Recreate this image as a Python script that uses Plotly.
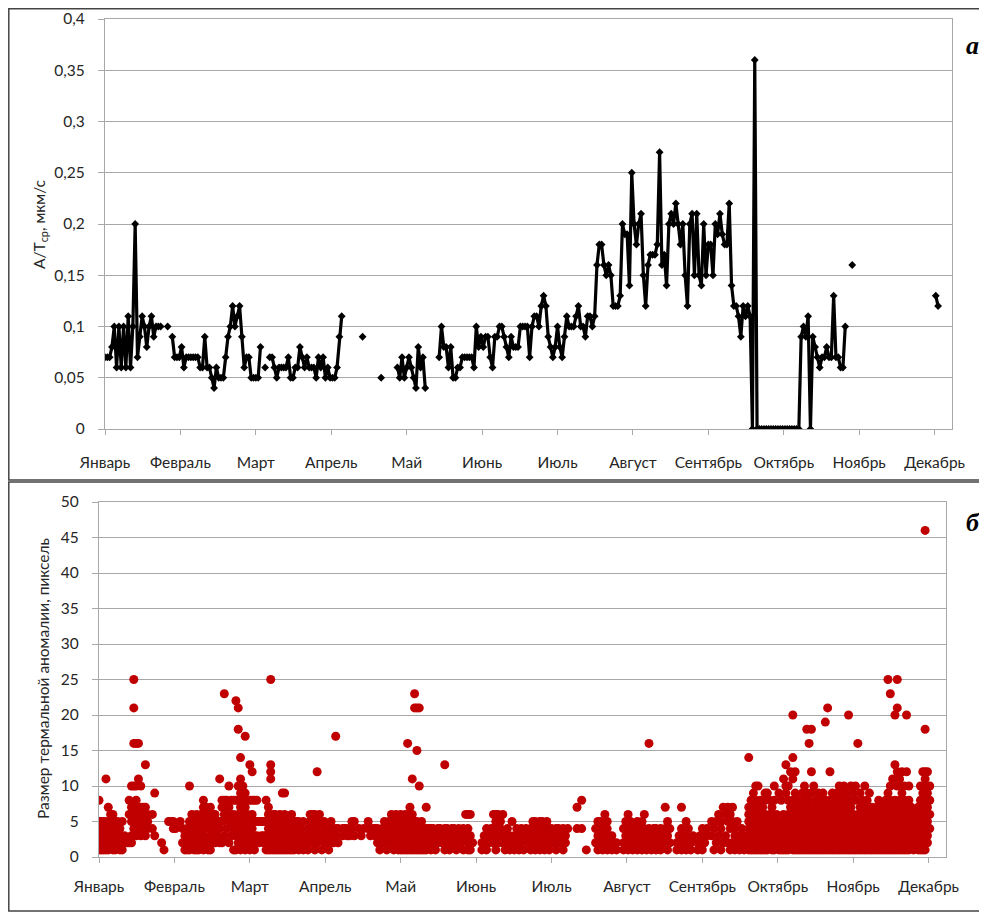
import plotly.graph_objects as go

W, H = 987, 913
OFF = 8  # page body margin in the browser

months = ["Январь", "Февраль", "Март", "Апрель", "Май", "Июнь", "Июль",
          "Август", "Сентябрь", "Октябрь", "Ноябрь", "Декабрь"]

# ---- panel a: A/T_cp, daily values (segments separated by missing days)
seg_starts = [0, 27, 29, 69, 71, 111, 119, 126, 144, 322, 358]
seg_values = [
    [0.07, 0.07, 0.07, 0.08, 0.10, 0.06, 0.10, 0.06, 0.10, 0.06, 0.11, 0.06, 0.10,
     0.20, 0.07, 0.09, 0.11, 0.10, 0.08, 0.10, 0.11, 0.09, 0.10, 0.10, 0.10],
    [0.10],
    [0.09, 0.07, 0.07, 0.07, 0.08, 0.06, 0.07, 0.07, 0.07, 0.07,
     0.07, 0.07, 0.06, 0.06, 0.09, 0.06, 0.06, 0.05, 0.04, 0.06,
     0.05, 0.05, 0.05, 0.07, 0.09, 0.10, 0.12, 0.10, 0.11, 0.12,
     0.09, 0.06, 0.07, 0.07, 0.05, 0.05, 0.05, 0.05, 0.08],
    [0.06],
    [0.07, 0.07, 0.06, 0.05, 0.06, 0.06, 0.06, 0.06, 0.07, 0.05,
     0.05, 0.06, 0.06, 0.08, 0.07, 0.06, 0.07, 0.06, 0.06, 0.06,
     0.05, 0.07, 0.06, 0.07, 0.05, 0.06, 0.05, 0.05, 0.05, 0.06, 0.09, 0.11],
    [0.09],
    [0.05],
    [0.06, 0.05, 0.07, 0.05, 0.06, 0.07, 0.06, 0.05, 0.04, 0.08, 0.06, 0.07, 0.04],
    [0.07, 0.10, 0.08, 0.08, 0.06, 0.08, 0.05, 0.05, 0.06, 0.06,
     0.07, 0.07, 0.07, 0.07, 0.07, 0.06, 0.10, 0.08, 0.09, 0.08,
     0.09, 0.09, 0.07, 0.06, 0.09, 0.09, 0.10, 0.10, 0.09, 0.08,
     0.07, 0.09, 0.08, 0.08, 0.08, 0.10, 0.10, 0.10, 0.10, 0.07,
     0.10, 0.11, 0.11, 0.10, 0.12, 0.13, 0.12, 0.09, 0.08, 0.07,
     0.08, 0.10, 0.08, 0.07, 0.09, 0.11, 0.10,
     0.10, 0.10, 0.11, 0.12, 0.10, 0.10, 0.09, 0.11, 0.11, 0.10,
     0.11, 0.16, 0.18, 0.18, 0.16, 0.15, 0.16, 0.15, 0.12, 0.12,
     0.12, 0.13, 0.20, 0.19, 0.19, 0.14, 0.25, 0.20, 0.18, 0.20,
     0.21, 0.15, 0.12, 0.16, 0.17, 0.17, 0.17, 0.18, 0.27, 0.16,
     0.17, 0.14, 0.20, 0.21, 0.20, 0.22, 0.20, 0.18, 0.20, 0.15,
     0.12, 0.20, 0.21, 0.15, 0.21, 0.15, 0.14, 0.20, 0.15, 0.18,
     0.18, 0.15, 0.20, 0.19, 0.21, 0.19, 0.18, 0.18,
     0.22, 0.14, 0.12, 0.12, 0.11, 0.09, 0.12, 0.11, 0.12, 0.11, 0.0,
     0.36, 0.0, 0.0, 0.0, 0.0, 0.0, 0.0, 0.0, 0.0, 0.0, 0.0,
     0.0, 0.0, 0.0, 0.0, 0.0, 0.0, 0.0, 0.0, 0.0,
     0.09, 0.10, 0.09, 0.11, 0.0, 0.09, 0.08, 0.07, 0.06, 0.07,
     0.07, 0.08, 0.07, 0.07, 0.13, 0.07, 0.07, 0.06, 0.06, 0.10],
    [0.16],
    [0.13, 0.12],
]

# ---- panel б: thermal anomaly sizes per day
anom_days = [0, 1, 2, 3, 4, 5, 6, 7, 8, 9, 10, 11, 12, 13, 14, 15, 16, 17, 18, 19, 20, 21,
             23, 24, 27, 28, 30, 31, 32, 33, 35, 36, 37, 38, 39, 40, 41, 42, 43, 44, 45, 46,
             47, 48, 49, 50, 51, 52, 53, 54, 55, 56, 57, 58, 59, 60, 61, 62, 63, 64, 65, 66,
             67, 68, 69, 70, 71, 72, 73, 74, 75, 76, 77, 78, 79, 80, 81, 82, 83, 84, 85, 86,
             87, 88, 89, 90, 91, 92, 93, 94, 95, 96, 97, 98, 99, 100, 101, 102, 103, 105, 106,
             107, 108, 109, 110, 112, 113, 114, 116, 117, 118, 119, 120, 121, 122, 123, 124,
             125, 126, 127, 128, 129, 130, 131, 132, 133, 134, 135, 136, 137, 138, 139, 140,
             141, 142, 143, 144, 145, 146, 147, 148, 149, 150, 151, 152, 153, 154, 155, 156,
             157, 158, 159, 160, 161, 165, 166, 167, 168, 169, 170, 171, 172, 173, 174, 175,
             176, 177, 178, 179, 180, 181, 182, 183, 184, 185, 186, 187, 188, 189, 190, 191,
             192, 193, 194, 195, 196, 197, 198, 199, 200, 201, 202, 206, 208, 210, 214, 215,
             216, 217, 218, 219, 220, 221, 222, 223, 226, 227, 228, 229, 230, 231, 232, 233,
             234, 235, 236, 237, 238, 239, 240, 241, 242, 243, 244, 245, 246, 249, 250, 251,
             252, 253, 254, 255, 256, 258, 259, 260, 261, 262, 264, 265, 266, 267, 268, 269,
             270, 271, 272, 273, 274, 275, 276, 277, 278, 279, 280, 281, 282, 283, 284, 285,
             286, 287, 288, 289, 290, 291, 292, 293, 294, 295, 296, 297, 298, 299, 300, 301,
             302, 303, 304, 305, 306, 307, 308, 309, 310, 311, 312, 313, 314, 315, 316, 317,
             318, 319, 320, 321, 322, 323, 324, 325, 326, 327, 328, 329, 330, 331, 332, 333,
             334, 335, 336, 337, 338, 339, 340, 341, 342, 343, 344, 345, 346, 347, 348, 349,
             350, 351, 352, 353, 354, 355, 356, 357, 358]
anom_sizes = [
    [1, 2, 3, 4, 5, 8], [1, 2, 3, 4, 5], [1, 2, 3, 4, 5], [1, 3, 4, 5, 11], [1, 2, 3, 4, 7],
    [2, 3, 4, 5, 6], [1, 2, 3, 5, 6], [1, 2, 3, 4, 5], [2, 4, 5], [1, 3, 4], [1, 2, 5], [2, 3],
    [2], [2, 6, 8], [2, 3, 5, 7, 10], [4, 5, 7, 10, 16, 21, 25], [3, 5, 6, 8, 10, 16],
    [4, 5, 7, 11, 16], [3, 5, 7, 10], [4, 5, 6, 7], [3, 5, 7, 13], [4, 5, 6],
    [6, 4], [9, 3], [2], [1], [5], [5], [5, 4], [4], [5], [4, 2], [3, 2, 1], [1, 2, 3, 4],
    [1, 2, 3, 5, 10], [2, 4, 5, 6], [1, 2, 3, 4], [1, 2, 5, 6], [1, 3, 4], [2, 4, 5, 6],
    [1, 3, 5, 7, 8], [2, 4, 6, 7], [1, 2, 5, 6], [1, 3, 4, 5, 7], [2, 5, 6], [2, 3, 4, 6], [3, 5],
    [2, 4, 5, 11], [2, 5, 7, 8], [3, 6, 8, 23], [4, 6, 8], [2, 5, 7, 10], [3, 5, 8], [1, 4, 6, 8],
    [1, 3, 5, 8, 22], [2, 4, 6, 8, 10, 18, 21], [1, 3, 5, 7, 9, 11, 14], [2, 4, 6, 8, 10],
    [1, 3, 5, 7, 9, 17], [2, 4, 6, 8], [1, 3, 5, 8, 13], [2, 4, 6, 8, 12], [1, 3, 5, 8],
    [2, 3, 5, 8], [2, 5], [3, 5], [2, 3, 5], [1, 2, 3, 5, 8], [1, 2, 3, 4, 6, 7],
    [1, 2, 3, 4, 5, 11, 12, 13, 25], [1, 2, 3, 4, 5, 6], [1, 2, 3, 4, 5, 6], [1, 2, 3, 4, 5],
    [1, 2, 3, 4, 6], [1, 2, 3, 5, 9], [1, 2, 3, 4, 6, 9], [1, 2, 3, 4, 5], [1, 2, 3, 5],
    [1, 2, 4, 6], [1, 3, 5], [2, 4, 5], [1, 3, 5], [2, 4], [1, 3, 5], [2, 3], [1, 2, 4],
    [3, 5, 6], [2, 4, 6], [1, 3, 5, 6], [2, 4, 12], [3, 5, 6], [1, 3, 4], [2, 3, 5], [3, 4],
    [1, 2], [3, 4, 5], [2, 3], [3, 4, 17], [2, 4], [3, 4], [4], [3, 4], [3], [4, 5], [3, 5],
    [4], [3], [4], [4, 5], [3], [4], [3, 4], [2, 4], [1, 3], [2, 4], [3, 5], [1, 2, 4], [3, 5],
    [2, 4, 6], [1, 3, 5], [2, 4, 6], [1, 2, 3, 5], [1, 2, 4, 5, 6], [1, 3, 4, 5],
    [1, 2, 3, 5, 6], [1, 2, 4, 5, 6, 16], [1, 2, 3, 4, 5, 7], [1, 2, 3, 4, 6, 11],
    [1, 2, 3, 4, 5, 21, 23], [1, 2, 3, 4, 5, 15, 21], [1, 2, 3, 4, 10, 21], [1, 2, 3, 5],
    [1, 2, 3, 4], [1, 2, 4, 7], [2, 3, 4], [1, 3, 4], [2, 3, 4], [1, 3], [2, 4], [3, 4], [2, 3],
    [1, 3, 4, 13], [2, 4], [1, 3], [2, 3, 4], [3, 4], [1, 2], [3, 4], [2], [1, 3, 4], [3, 6],
    [1, 2, 4, 6], [1, 3, 6], [2], [1, 2], [2, 3], [1, 4], [2, 3], [3, 4], [2, 4, 6],
    [1, 3, 5, 6], [2, 4, 6], [3, 4, 5], [2, 3, 6], [1, 3], [2, 4], [1, 3], [2, 5], [1, 3],
    [2, 4], [1, 2, 3], [2, 4], [1, 3], [3, 4], [2, 3], [1, 2, 4], [2, 3, 5], [1, 3, 4, 5],
    [2, 4], [1, 3, 5], [2, 4, 5], [1, 3], [2, 4, 5], [1, 2, 3], [3, 4], [2, 3], [1, 2, 4],
    [3, 4], [2, 3], [1, 4], [2, 3], [4], [4, 7], [4, 8], [1], [2, 4], [1, 3, 5], [2, 4, 5],
    [1, 3, 4], [2, 3, 5, 6], [1, 4, 5], [2, 3], [1, 3], [2], [1, 2], [1, 2, 4], [2, 3, 5],
    [1, 4, 6], [2, 3, 5], [1, 3, 4], [2, 4], [1, 3, 5], [2, 3, 4], [1, 3, 5], [2, 4, 6],
    [1, 2, 3], [2, 4, 16], [1, 3], [2, 4], [1, 3, 4], [2, 3], [1, 4], [2, 3], [4, 7], [1, 3, 5],
    [2, 4], [1, 2], [2, 3], [1, 4, 7], [2, 3], [1, 3, 5], [2, 4], [1, 2], [3], [1, 2], [2, 3],
    [1, 4], [2, 3], [3, 4], [3, 5], [1, 4], [2, 5], [3, 6], [1, 4, 5], [2, 7], [3, 6],
    [2, 5, 7], [1, 4, 6], [2, 5, 7], [1, 3, 4], [2, 5], [1, 3], [2, 4], [1, 3], [2],
    [1, 2, 3, 4, 5, 6, 7, 14], [1, 2, 3, 4, 5, 6, 8], [1, 2, 3, 4, 5, 7, 9],
    [1, 2, 3, 4, 6, 8, 10], [1, 2, 3, 5, 6, 7, 10], [1, 2, 3, 4, 5, 6, 8], [1, 2, 3, 4, 5, 7],
    [1, 2, 3, 4, 6, 8, 9], [1, 2, 3, 4, 5, 9], [2, 3, 4, 5, 6, 8], [1, 2, 3, 4, 6, 7],
    [1, 2, 4, 5, 8, 10], [2, 3, 5, 6], [1, 3, 4, 9], [1, 2, 3, 5, 8], [1, 2, 3, 4, 6, 11],
    [1, 3, 4, 5, 9, 10, 13], [1, 2, 4, 6, 8, 10], [2, 3, 5, 7, 12],
    [1, 2, 3, 4, 6, 8, 11, 14, 20], [1, 2, 3, 5, 7, 9, 12], [1, 2, 4, 6, 8],
    [1, 2, 3, 4, 5, 7], [1, 2, 3, 4, 5, 6, 9], [1, 2, 3, 4, 5, 6, 8, 10],
    [1, 2, 3, 4, 5, 7, 9, 18], [1, 2, 3, 4, 6, 8, 16], [1, 2, 3, 4, 5, 6, 9, 12, 18],
    [1, 2, 3, 4, 5, 7, 10], [1, 2, 3, 4, 6, 8], [1, 2, 3, 5, 7, 9], [1, 2, 3, 4, 6, 8],
    [1, 2, 3, 4, 5, 7, 9], [1, 2, 3, 4, 6, 8, 19], [1, 2, 3, 4, 5, 7, 21],
    [1, 2, 3, 4, 6, 8, 12], [1, 2, 3, 5, 7, 9], [1, 2, 3, 4, 6, 8], [1, 2, 4, 5, 7, 9],
    [1, 2, 3, 4, 6, 8, 10], [1, 2, 3, 4, 5, 7, 9], [1, 2, 3, 4, 6, 8, 10], [1, 2, 3, 5, 7, 9],
    [1, 2, 3, 4, 6, 8, 20], [1, 2, 3, 4, 5, 7, 10], [1, 2, 3, 4, 6, 9], [1, 2, 3, 5, 8, 10],
    [1, 2, 3, 4, 6, 16], [1, 2, 3, 4, 5, 7, 9], [1, 2, 3, 5, 6, 8], [1, 2, 3, 4, 7, 10],
    [1, 2, 3, 4, 5, 6, 8], [1, 2, 3, 4, 6, 9], [1, 2, 4, 5, 7], [1, 2, 3, 4, 6],
    [1, 2, 3, 5, 7], [1, 2, 4, 6, 8], [1, 2, 3, 5, 6], [1, 3, 4, 5, 7], [1, 2, 3, 4, 6, 8],
    [1, 2, 3, 5, 7, 9, 25], [1, 2, 4, 6, 8, 10, 23], [1, 2, 3, 5, 7, 11],
    [1, 2, 4, 6, 8, 13, 20], [1, 2, 3, 5, 7, 10, 12, 21, 25], [1, 2, 4, 6, 8, 11],
    [1, 2, 3, 5, 7, 9, 12], [1, 2, 4, 6, 8, 10], [1, 3, 5, 7, 12, 20], [1, 2, 4, 6, 8, 10],
    [2, 3, 5, 7], [1, 4, 6], [2, 3, 4, 6], [1, 2, 3, 5, 7], [1, 2, 4, 6, 8, 10],
    [1, 2, 3, 5, 7, 9, 12], [1, 2, 4, 6, 8, 10, 11, 12, 18, 46], [2, 3, 5, 7, 9, 12],
    [4, 6, 8, 10],
]

top_ticks = [0, 0.05, 0.1, 0.15, 0.2, 0.25, 0.3, 0.35, 0.4]
top_ticktext = ["0", "0,05", "0,1", "0,15", "0,2", "0,25", "0,3", "0,35", "0,4"]
bot_ticks = [0, 5, 10, 15, 20, 25, 30, 35, 40, 45, 50]

# ---- build series
top_x, top_y = [], []
for s, vals in zip(seg_starts, seg_values):
    if top_x:
        top_x.append(None)
        top_y.append(None)
    for k, v in enumerate(vals):
        top_x.append(s + k)
        top_y.append(v)

bx, by = [], []
for d, sizes in zip(anom_days, anom_sizes):
    for s in sizes:
        bx.append(d)
        by.append(s)

YEAR_SPAN = 365
month_pos = [i * 32.5 for i in range(12)]

fig = go.Figure()
fig.add_trace(go.Scatter(x=top_x, y=top_y, mode="lines+markers", connectgaps=False,
                         line=dict(color="black", width=3.2),
                         marker=dict(symbol="diamond", size=6, color="black"),
                         xaxis="x", yaxis="y", showlegend=False))
fig.add_trace(go.Scatter(x=bx, y=by, mode="markers",
                         marker=dict(color="#C00000", size=9, line=dict(width=0)),
                         xaxis="x2", yaxis="y2", showlegend=False))

FONT = "Lato, Open Sans, sans-serif"
tickfont = dict(family=FONT, size=15.5, color="#262626")
grid = "#a8a8a8"

def py(p):
    return 1 - (p - OFF) / H

def px(p):
    return (p - OFF) / W

common_x = dict(range=[0, YEAR_SPAN], tickvals=month_pos, ticktext=months,
                ticks="outside", ticklen=5, tickcolor=grid, showgrid=False,
                showline=True, linecolor=grid, linewidth=1.3, mirror=True,
                zeroline=False, tickfont=tickfont, automargin=False)
common_y = dict(ticks="outside", ticklen=6, tickcolor=grid, showgrid=True,
                gridcolor=grid, gridwidth=1.3, showline=True, linecolor=grid,
                linewidth=1.3, mirror=True, zeroline=False, tickfont=tickfont,
                ticklabelstandoff=10, automargin=False)

fig.update_layout(
    width=W, height=H, margin=dict(l=0, r=0, t=0, b=0, autoexpand=False),
    paper_bgcolor="white", plot_bgcolor="white",
    xaxis=dict(domain=[px(105), px(952)], anchor="y", ticklabelstandoff=14, **common_x),
    yaxis=dict(domain=[py(429), py(19)], range=[0, 0.4], anchor="x",
               tickvals=top_ticks, ticktext=top_ticktext, **common_y),
    xaxis2=dict(domain=[px(99), px(946)], anchor="y2", ticklabelstandoff=10, **common_x),
    yaxis2=dict(domain=[py(857), py(502)], range=[0, 50], anchor="x2",
                tickvals=bot_ticks, **common_y),
    shapes=[
        dict(type="rect", xref="paper", yref="paper", x0=0.8 / W, x1=px(995),
             y0=py(480), y1=1 - 0.8 / H, line=dict(color="#444", width=1.5)),
        dict(type="rect", xref="paper", yref="paper", x0=0.8 / W, x1=px(995),
             y0=py(911), y1=py(482), line=dict(color="#444", width=1.5)),
    ],
    annotations=[
        dict(text="A/T<sub>ср</sub>, мкм/с", xref="paper", yref="paper",
             x=px(40), y=py(224), textangle=-90, showarrow=False,
             xanchor="center", yanchor="middle",
             font=dict(family=FONT, size=15.5, color="#262626")),
        dict(text="Размер термальной аномалии, пиксель", xref="paper", yref="paper",
             x=px(43), y=py(679), textangle=-90, showarrow=False,
             xanchor="center", yanchor="middle",
             font=dict(family=FONT, size=15.5, color="#262626")),
        dict(text="<b><i>a</i></b>", xref="paper", yref="paper", x=px(972), y=py(45),
             xanchor="center", yanchor="middle",
             showarrow=False, font=dict(family="Liberation Serif, serif", size=26, color="black")),
        dict(text="<b><i>б</i></b>", xref="paper", yref="paper", x=px(973), y=py(522),
             xanchor="center", yanchor="middle",
             showarrow=False, font=dict(family="Liberation Serif, serif", size=26, color="black")),
    ],
)

fig.write_html("out.html")
